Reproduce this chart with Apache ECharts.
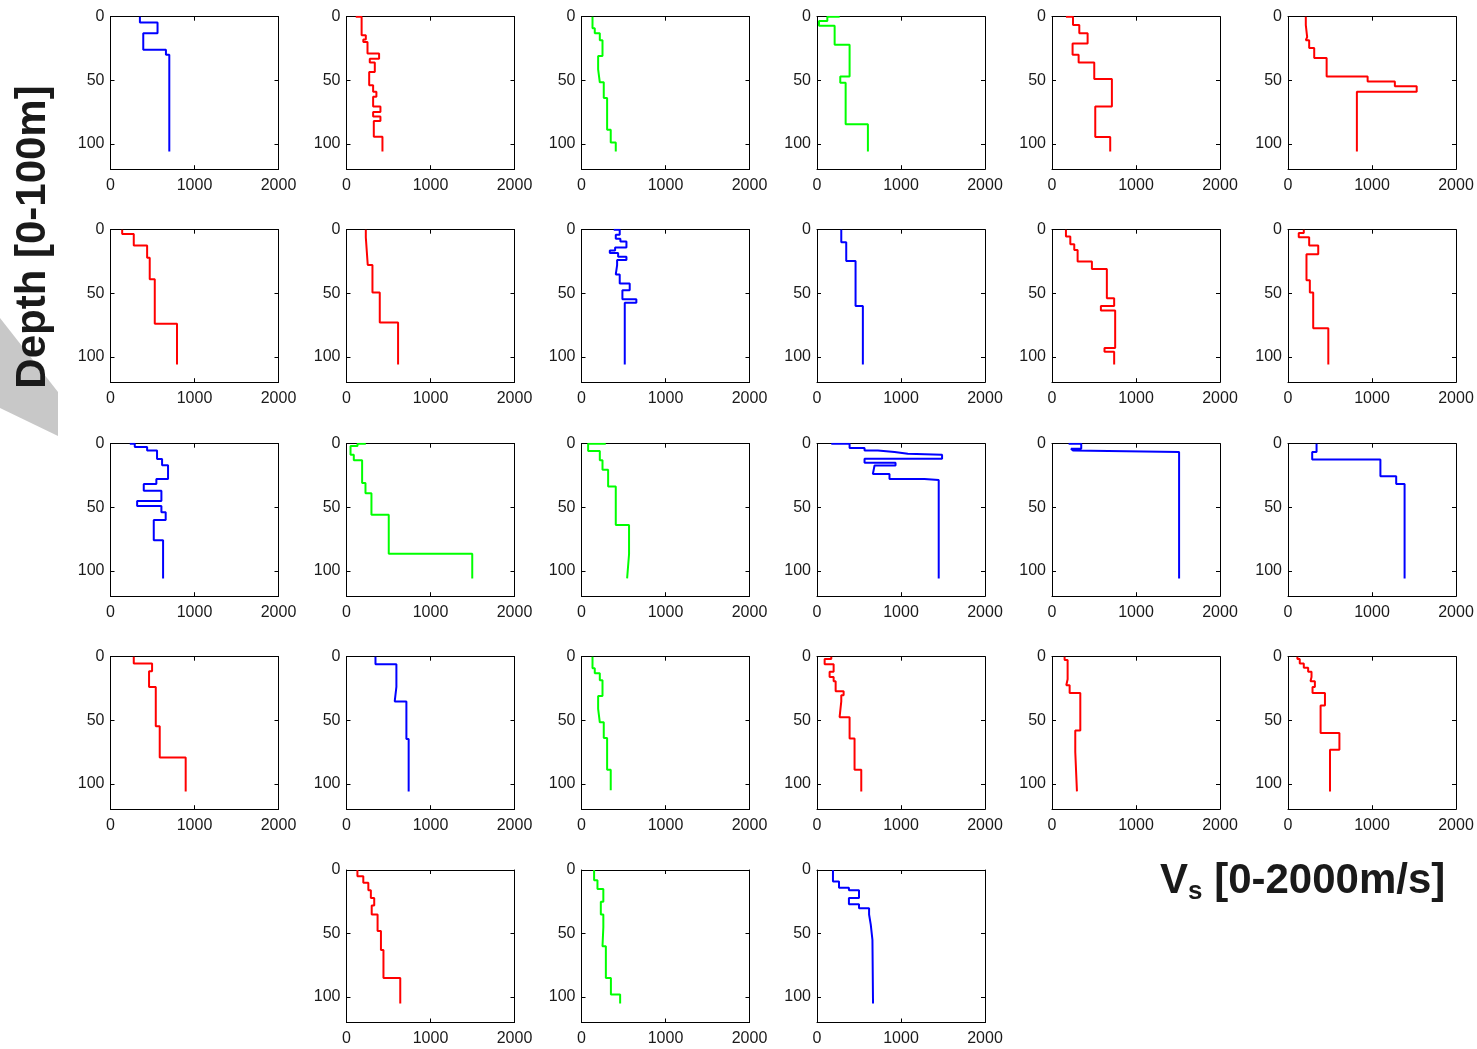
<!DOCTYPE html>
<html>
<head>
<meta charset="utf-8">
<title>Vs profiles</title>
<script src="https://cdn.jsdelivr.net/npm/echarts@6/dist/echarts.min.js"></script>
<style>
  html, body { margin: 0; padding: 0; background: #fff; }
  #chart { width: 1477px; height: 1049px; }
</style>
</head>
<body>
<div id="chart"></div>
<script>
// layer tops [m] and shear wave velocity [m/s] for every profile
const layerTops = [
  [0, 4.5, 13, 26, 30],
  [0, 0, 14.5, 18, 20, 29, 33, 36, 43.6, 54, 59, 63, 70.6, 75, 78.6, 82, 94.4],
  [0, 9, 13, 18.5, 31, 41.5, 51.6, 64, 89, 99],
  [0, 0, 3.4, 7.1, 22, 47, 52, 84.6],
  [0, 0, 6.6, 13, 21, 30, 36, 49, 70.6, 94.7],
  [0, 6.6, 16, 18.5, 24.6, 32.5, 47, 51, 54.8, 59],
  [0, 3.4, 12.4, 22, 39, 74],
  [0, 6, 27.8, 49.5, 73],
  [0, 0, 4, 7.1, 9.3, 14, 16.4, 18.3, 21.2, 23.8, 27.8, 35.2, 42.3, 47.6, 54.8, 57.4],
  [0, 9.8, 24.6, 60],
  [0, 5.3, 11.4, 16, 25, 31, 54, 60, 63.5, 93, 96],
  [0, 2.6, 6, 12.4, 19.3, 39.7, 49.5, 77.5],
  [0, 0, 2.6, 5.3, 12, 17, 27.8, 31.7, 37, 45, 49, 54, 60, 76],
  [0, 0, 1.9, 8.7, 13, 31, 39, 56, 86.5],
  [0, 0, 5.8, 13, 20.4, 33.6, 64, 87],
  [0, 0, 3.4, 5.3, 6.6, 7.9, 8.7, 11.9, 15, 17.2, 18.5, 23.8, 27.8, 28.6],
  [0, 0, 4, 5.3, 6.6],
  [0, 6.6, 12.4, 25.7, 31.7],
  [0, 5.3, 11.4, 23.8, 54.8, 79.4],
  [0, 6, 23.8, 35.2, 64.8],
  [0, 9, 13, 18.5, 31, 41, 51.6, 64, 89],
  [0, 1.9, 6, 11.9, 15.9, 19.3, 27.2, 30.4, 35.2, 47.6, 64.3, 89],
  [0, 2.6, 17.7, 22.5, 28.6, 58, 75],
  [0, 1.9, 5.3, 8.7, 11.9, 15.9, 19.3, 23.8, 28.6, 38.4, 60, 73.3],
  [0, 5, 10, 16, 22, 28, 35, 48, 63, 85],
  [0, 8, 15, 25, 35, 45, 60, 85, 98],
  [0, 9, 14, 16, 22, 27, 30, 35, 43, 55]
];

const layerVs = [
  [350, 560, 390, 660, 700],
  [110, 180, 230, 200, 250, 388, 277, 337, 270, 317, 356, 317, 404, 317, 404, 325, 428],
  [131, 158, 218, 250, 198, 218, 265, 305, 348, 408],
  [270, 123, 24, 210, 388, 277, 341, 606],
  [166, 250, 325, 424, 245, 317, 503, 713, 515, 693],
  [212, 228, 212, 252, 312, 460, 948, 1272, 1532, 820],
  [139, 277, 436, 467, 527, 792],
  [230, 253, 309, 396, 614],
  [384, 455, 408, 463, 535, 400, 337, 436, 535, 424, 408, 455, 574, 487, 653, 515],
  [289, 348, 459, 546],
  [166, 218, 265, 305, 475, 653, 740, 582, 752, 625, 740],
  [188, 128, 252, 360, 220, 260, 300, 480],
  [230, 289, 436, 554, 614, 685, 546, 396, 606, 317, 606, 657, 515, 626],
  [230, 131, 48, 87, 186, 226, 297, 503, 1497],
  [289, 79, 218, 250, 317, 408, 566, 543],
  [170, 388, 566, 725, 923, 1081, 1489, 566, 935, 685, 665, 863, 1279, 1449],
  [198, 348, 226, 250, 1513],
  [340, 288, 1100, 1288, 1388],
  [277, 495, 459, 539, 586, 895],
  [345, 594, 574, 713, 740],
  [131, 158, 218, 250, 198, 218, 265, 305, 348],
  [170, 91, 198, 150, 198, 222, 317, 289, 269, 388, 447, 527],
  [150, 186, 170, 210, 337, 277, 297],
  [112, 140, 188, 240, 280, 268, 320, 292, 440, 388, 612, 500],
  [130, 200, 260, 290, 330, 300, 370, 410, 440, 640],
  [150, 190, 260, 230, 260, 250, 290, 350, 460],
  [190, 262, 380, 500, 380, 500, 620, 640, 660, 667]
];

const profileEnd = [106, 106, 106, 106, 106, 106, 106, 106, 106, 106, 106, 106, 106, 106,
  106, 106, 106, 106, 106, 106, 105, 106, 106, 106, 105, 105, 105];

// b = blue, r = red, g = green
const profileClass = ['b', 'r', 'g', 'g', 'r', 'r', 'r', 'r', 'b', 'b', 'r', 'r', 'b', 'g',
  'g', 'b', 'b', 'b', 'r', 'b', 'g', 'r', 'r', 'r', 'r', 'g', 'b'];

const xTicks = [0, 1000, 2000];
const yTicks = [0, 50, 100];

const classColor = { b: '#0000ff', r: '#ff0000', g: '#00ff00' };
const colLeft = [110.5, 346.5, 581.5, 817, 1052, 1288];
const rowTop = [16.7, 229.7, 443.7, 656.7, 870];
const boxW = 168, boxH = 152.5;
const font = 'Liberation Sans';

// panel slots (row, col); the last row only fills the middle columns
const slots = [];
for (let r = 0; r < 4; r++) for (let c = 0; c < 6; c++) slots.push([r, c]);
slots.push([4, 1], [4, 2], [4, 3]);

const stepLine = (tops, vs, end) => {
  const pts = [];
  for (let i = 0; i < vs.length; i++) {
    const bottom = i + 1 < tops.length ? tops[i + 1] : end;
    pts.push([vs[i], tops[i]]);
    pts.push([vs[i], bottom]);
  }
  return pts;
};

const grids = [], xAxes = [], yAxes = [], series = [];
const axisLine = { show: true, onZero: false, lineStyle: { color: '#000', width: 1 } };
const tick = { show: true, inside: true, length: 4, lineStyle: { color: '#000', width: 1 } };

slots.forEach(([r, c], i) => {
  grids.push({ left: colLeft[c], top: rowTop[r], width: boxW, height: boxH, containLabel: false });
  const xBase = {
    gridIndex: i, type: 'value', min: xTicks[0], max: xTicks[xTicks.length - 1],
    interval: xTicks[1] - xTicks[0], axisLine, axisTick: tick, splitLine: { show: false }
  };
  xAxes.push(Object.assign({}, xBase, {
    position: 'bottom',
    axisLabel: { fontFamily: font, fontSize: 16, color: '#1a1a1a', margin: 8, formatter: v => String(v) }
  }));
  xAxes.push(Object.assign({}, xBase, { position: 'top', axisLabel: { show: false } }));
  const yBase = {
    gridIndex: i, type: 'value', inverse: true, min: 0, max: 120,
    interval: yTicks[1] - yTicks[0], axisLine, axisTick: tick, splitLine: { show: false }
  };
  yAxes.push(Object.assign({}, yBase, {
    position: 'left',
    axisLabel: {
      fontFamily: font, fontSize: 16, color: '#1a1a1a', margin: 6,
      formatter: v => (yTicks.indexOf(v) >= 0 ? String(v) : '')
    }
  }));
  yAxes.push(Object.assign({}, yBase, { position: 'right', axisLabel: { show: false } }));

  series.push({
    type: 'line',
    xAxisIndex: 2 * i,
    yAxisIndex: 2 * i,
    data: stepLine(layerTops[i], layerVs[i], profileEnd[i]),
    showSymbol: false,
    symbol: 'none',
    animation: false,
    lineStyle: { color: classColor[profileClass[i]], width: 2 }
  });
});

const chart = echarts.init(document.getElementById('chart'));
chart.setOption({
  animation: false,
  grid: grids,
  xAxis: xAxes,
  yAxis: yAxes,
  series: series,
  title: [{
    text: '{v|V}{s|s}{v| [0-2000m/s]}',
    left: 1155,
    top: 852,
    textStyle: {
      rich: {
        v: { fontFamily: font, fontWeight: 'bold', fontSize: 42, color: '#1a1a1a' },
        s: { fontFamily: font, fontWeight: 'bold', fontSize: 26, color: '#1a1a1a', padding: [22, 0, 0, 0] }
      }
    }
  }],
  graphic: [
    {
      type: 'polygon',
      z: -1,
      shape: { points: [[0, 318], [58, 392], [58, 436], [0, 408]] },
      style: { fill: '#c8c8c8' }
    },
    {
      type: 'text',
      x: 33,
      y: 237,
      rotation: Math.PI / 2,
      style: {
        text: 'Depth [0-100m]',
        font: 'bold 42px "Liberation Sans"',
        fill: '#1a1a1a',
        align: 'center',
        verticalAlign: 'middle'
      }
    }
  ]
});
</script>
</body>
</html>
